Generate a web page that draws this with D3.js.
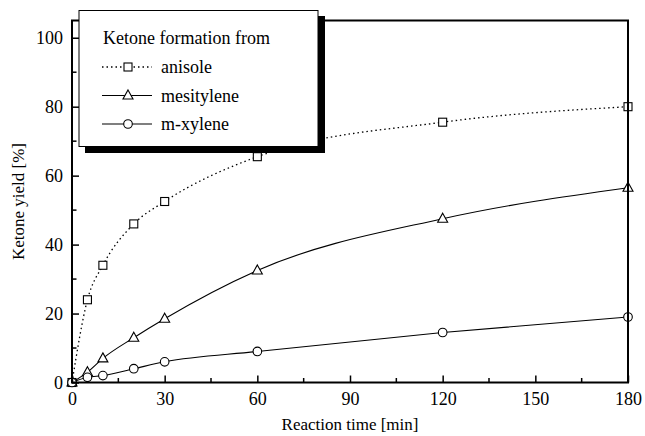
<!DOCTYPE html>
<html>
<head>
<meta charset="utf-8">
<script src="https://cdn.jsdelivr.net/npm/d3@7"></script>
</head>
<body style="margin:0;background:#fff">
<svg id="ketone-plot" width="645" height="436"></svg>
<script>
// Reaction times (min) and ketone yields (%) for each substrate
const times = [0, 5, 10, 20, 30, 60, 120, 180];
const anisole = [0, 24, 34, 46, 52.5, 65.5, 75.5, 80];
const mesitylene = [0, 3, 7, 13, 18.5, 32.5, 47.5, 56.5];
const mXylene = [0, 1.5, 2, 4, 6, 9, 14.5, 19];

const xTicks = [0, 30, 60, 90, 120, 150, 180];
const yTicks = [0, 20, 40, 60, 80, 100];
const xMinor = [15, 45, 75, 105, 135, 165];
const yMinor = [10, 30, 50, 70, 90];

const seriesNames = ["anisole", "mesitylene", "m-xylene"];

const FONT = "Liberation Serif";

const svg = d3.select("#ketone-plot");
const m = { left: 72, right: 17, top: 20.5, bottom: 53.5 };
const W = 645, H = 436;

const x = d3.scaleLinear().domain([0, 180]).range([m.left, W - m.right]);
const y = d3.scaleLinear().domain([0, 105]).range([H - m.bottom, m.top]);

const series = [
  { name: seriesNames[0], values: anisole, dash: "1.5,3", marker: "square" },
  { name: seriesNames[1], values: mesitylene, dash: null, marker: "triangle" },
  { name: seriesNames[2], values: mXylene, dash: null, marker: "circle" }
];

// serif text helper
function serif(sel, size) {
  return sel.attr("font-family", FONT).attr("font-size", size)
    .style("font-family", FONT, "important").style("font-size", size + "px", "important");
}

const line = d3.line()
  .x((d, i) => x(times[i]))
  .y(d => y(d))
  .curve(d3.curveMonotoneX);

// curves
series.forEach(s => {
  svg.append("path")
    .attr("d", line(s.values))
    .attr("fill", "none")
    .attr("stroke", "#000")
    .attr("stroke-width", s.dash ? 1.3 : 1.1)
    .attr("stroke-dasharray", s.dash);
});

function drawMarker(g, type, cx, cy) {
  if (type === "square") {
    g.append("rect").attr("x", cx - 4).attr("y", cy - 4).attr("width", 8).attr("height", 8)
      .attr("fill", "#fff").attr("stroke", "#000").attr("stroke-width", 1.1);
  } else if (type === "triangle") {
    g.append("path").attr("d", `M${cx},${cy - 5.5}L${cx + 5},${cy + 3.5}L${cx - 5},${cy + 3.5}Z`)
      .attr("fill", "#fff").attr("stroke", "#000").attr("stroke-width", 1.1);
  } else {
    g.append("circle").attr("cx", cx).attr("cy", cy).attr("r", 4.3)
      .attr("fill", "#fff").attr("stroke", "#000").attr("stroke-width", 1.1);
  }
}

// markers
series.forEach(s => {
  const g = svg.append("g");
  s.values.forEach((v, i) => drawMarker(g, s.marker, x(times[i]), y(v)));
});

// frame
svg.append("rect")
  .attr("x", x(0)).attr("y", y(105))
  .attr("width", x(180) - x(0)).attr("height", y(0) - y(105))
  .attr("fill", "none").attr("stroke", "#000").attr("stroke-width", 2);

// x axis (ticks pointing inward)
const xAxis = d3.axisBottom(x).tickValues(xTicks).tickSize(-7).tickPadding(10);
const gx = svg.append("g").attr("transform", `translate(0,${y(0)})`).call(xAxis);
gx.select(".domain").remove();
gx.selectAll(".tick line").attr("stroke-width", 1.5);
serif(gx.selectAll("text"), 18).attr("fill", "#000");
gx.selectAll(".minor").data(xMinor).enter().append("line")
  .attr("x1", d => x(d)).attr("x2", d => x(d)).attr("y1", 0).attr("y2", -4.5)
  .attr("stroke", "#000").attr("stroke-width", 1.5);

// y axis
const yAxis = d3.axisLeft(y).tickValues(yTicks).tickSize(-7).tickPadding(9);
const gy = svg.append("g").attr("transform", `translate(${x(0)},0)`).call(yAxis);
gy.select(".domain").remove();
gy.selectAll(".tick line").attr("stroke-width", 1.5);
serif(gy.selectAll("text"), 18).attr("fill", "#000");
gy.selectAll(".minor").data(yMinor).enter().append("line")
  .attr("y1", d => y(d)).attr("y2", d => y(d)).attr("x1", 0).attr("x2", 4.5)
  .attr("stroke", "#000").attr("stroke-width", 1.5);

// axis titles
serif(svg.append("text"), 17)
  .attr("x", (x(0) + x(180)) / 2).attr("y", 430)
  .attr("text-anchor", "middle")
  .text("Reaction time [min]");
serif(svg.append("text"), 17)
  .attr("transform", `translate(24,${(y(0) + y(105)) / 2}) rotate(-90)`)
  .attr("text-anchor", "middle")
  .text("Ketone yield [%]");

// legend with drop shadow
const lg = svg.append("g");
lg.append("rect").attr("x", 85).attr("y", 16).attr("width", 240).attr("height", 137).attr("fill", "#000");
lg.append("rect").attr("x", 79).attr("y", 10.5).attr("width", 239).attr("height", 136)
  .attr("fill", "#fff").attr("stroke", "#000").attr("stroke-width", 1);
serif(lg.append("text"), 18).attr("x", 103).attr("y", 44).text("Ketone formation from");
series.forEach((s, i) => {
  const ly = 67 + i * 28.5;
  lg.append("line").attr("x1", 102).attr("x2", 152).attr("y1", ly).attr("y2", ly)
    .attr("stroke", "#000").attr("stroke-width", s.dash ? 1.3 : 1.1)
    .attr("stroke-dasharray", s.dash);
  drawMarker(lg, s.marker, 128, ly);
  serif(lg.append("text"), 18).attr("x", 161).attr("y", ly + 6).text(s.name);
});
</script>
</body>
</html>
